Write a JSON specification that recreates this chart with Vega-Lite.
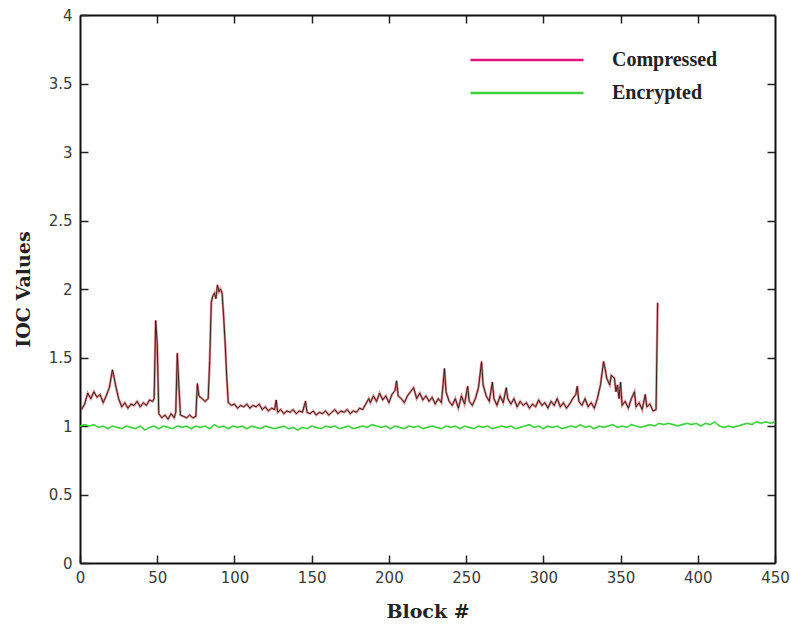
{
  "$schema": "https://vega.github.io/schema/vega-lite/v6.json",
  "width": 695,
  "height": 548,
  "autosize": "none",
  "padding": {"left": 80, "top": 15, "right": 16, "bottom": 65},
  "background": "white",
  "config": {
    "view": {"stroke": null},
    "axis": {
      "grid": false,
      "domainColor": "#111",
      "domainWidth": 2,
      "tickColor": "#222",
      "tickWidth": 1.5,
      "tickSize": -8,
      "labelFlush": false,
      "labelFont": "DejaVu Sans",
      "labelFontSize": 15,
      "labelColor": "#3a3a3a",
      "titleFont": "DejaVu Serif",
      "titleFontWeight": "bold",
      "titleFontSize": 19,
      "titleColor": "#222"
    }
  },
  "datasets": {
    "comp": [
      {"block":1,"ioc":1.12},{"block":3,"ioc":1.16},{"block":5,"ioc":1.24},{"block":7,"ioc":1.2},{"block":9,"ioc":1.25},{"block":11,"ioc":1.21},{"block":13,"ioc":1.23},{"block":15,"ioc":1.17},{"block":17,"ioc":1.22},{"block":19,"ioc":1.28},{"block":21,"ioc":1.41},{"block":22,"ioc":1.36},{"block":23,"ioc":1.3},{"block":25,"ioc":1.2},{"block":27,"ioc":1.14},{"block":29,"ioc":1.17},{"block":31,"ioc":1.13},{"block":33,"ioc":1.16},{"block":35,"ioc":1.15},{"block":37,"ioc":1.18},{"block":39,"ioc":1.14},{"block":41,"ioc":1.17},{"block":43,"ioc":1.15},{"block":45,"ioc":1.19},{"block":47,"ioc":1.18},{"block":48,"ioc":1.2},{"block":49,"ioc":1.77},{"block":50,"ioc":1.6},{"block":51,"ioc":1.09},{"block":53,"ioc":1.06},{"block":55,"ioc":1.08},{"block":57,"ioc":1.05},{"block":59,"ioc":1.09},{"block":61,"ioc":1.06},{"block":62,"ioc":1.1},{"block":63,"ioc":1.53},{"block":64,"ioc":1.3},{"block":65,"ioc":1.08},{"block":67,"ioc":1.07},{"block":69,"ioc":1.06},{"block":71,"ioc":1.08},{"block":73,"ioc":1.06},{"block":75,"ioc":1.07},{"block":76,"ioc":1.31},{"block":77,"ioc":1.22},{"block":79,"ioc":1.2},{"block":81,"ioc":1.18},{"block":83,"ioc":1.2},{"block":84,"ioc":1.48},{"block":85,"ioc":1.9},{"block":86,"ioc":1.95},{"block":87,"ioc":1.97},{"block":88,"ioc":1.93},{"block":89,"ioc":2.03},{"block":90,"ioc":1.98},{"block":91,"ioc":2.0},{"block":92,"ioc":1.97},{"block":93,"ioc":1.8},{"block":94,"ioc":1.6},{"block":95,"ioc":1.36},{"block":96,"ioc":1.17},{"block":98,"ioc":1.15},{"block":100,"ioc":1.16},{"block":102,"ioc":1.13},{"block":104,"ioc":1.15},{"block":106,"ioc":1.14},{"block":108,"ioc":1.16},{"block":110,"ioc":1.13},{"block":112,"ioc":1.15},{"block":114,"ioc":1.14},{"block":116,"ioc":1.16},{"block":118,"ioc":1.12},{"block":120,"ioc":1.14},{"block":122,"ioc":1.11},{"block":124,"ioc":1.13},{"block":126,"ioc":1.12},{"block":127,"ioc":1.19},{"block":128,"ioc":1.1},{"block":130,"ioc":1.12},{"block":132,"ioc":1.09},{"block":134,"ioc":1.11},{"block":136,"ioc":1.1},{"block":138,"ioc":1.12},{"block":140,"ioc":1.09},{"block":142,"ioc":1.11},{"block":144,"ioc":1.1},{"block":146,"ioc":1.18},{"block":147,"ioc":1.1},{"block":149,"ioc":1.09},{"block":151,"ioc":1.11},{"block":153,"ioc":1.08},{"block":155,"ioc":1.1},{"block":157,"ioc":1.09},{"block":159,"ioc":1.11},{"block":161,"ioc":1.08},{"block":163,"ioc":1.1},{"block":165,"ioc":1.12},{"block":167,"ioc":1.09},{"block":169,"ioc":1.11},{"block":171,"ioc":1.1},{"block":173,"ioc":1.12},{"block":175,"ioc":1.09},{"block":177,"ioc":1.11},{"block":179,"ioc":1.1},{"block":181,"ioc":1.13},{"block":183,"ioc":1.12},{"block":185,"ioc":1.16},{"block":187,"ioc":1.2},{"block":188,"ioc":1.17},{"block":190,"ioc":1.22},{"block":192,"ioc":1.18},{"block":194,"ioc":1.24},{"block":196,"ioc":1.19},{"block":198,"ioc":1.22},{"block":200,"ioc":1.17},{"block":202,"ioc":1.23},{"block":204,"ioc":1.26},{"block":205,"ioc":1.33},{"block":206,"ioc":1.22},{"block":208,"ioc":1.2},{"block":210,"ioc":1.17},{"block":212,"ioc":1.22},{"block":214,"ioc":1.25},{"block":216,"ioc":1.28},{"block":218,"ioc":1.2},{"block":220,"ioc":1.24},{"block":222,"ioc":1.19},{"block":224,"ioc":1.22},{"block":226,"ioc":1.18},{"block":228,"ioc":1.21},{"block":230,"ioc":1.16},{"block":232,"ioc":1.2},{"block":234,"ioc":1.17},{"block":236,"ioc":1.42},{"block":237,"ioc":1.25},{"block":239,"ioc":1.18},{"block":241,"ioc":1.15},{"block":243,"ioc":1.2},{"block":245,"ioc":1.13},{"block":247,"ioc":1.22},{"block":249,"ioc":1.16},{"block":251,"ioc":1.29},{"block":252,"ioc":1.18},{"block":254,"ioc":1.15},{"block":256,"ioc":1.2},{"block":258,"ioc":1.28},{"block":260,"ioc":1.47},{"block":261,"ioc":1.3},{"block":263,"ioc":1.22},{"block":265,"ioc":1.18},{"block":267,"ioc":1.32},{"block":268,"ioc":1.2},{"block":270,"ioc":1.15},{"block":272,"ioc":1.22},{"block":274,"ioc":1.17},{"block":276,"ioc":1.28},{"block":277,"ioc":1.2},{"block":279,"ioc":1.16},{"block":281,"ioc":1.2},{"block":283,"ioc":1.14},{"block":285,"ioc":1.18},{"block":287,"ioc":1.15},{"block":289,"ioc":1.17},{"block":291,"ioc":1.13},{"block":293,"ioc":1.16},{"block":295,"ioc":1.14},{"block":297,"ioc":1.19},{"block":299,"ioc":1.15},{"block":301,"ioc":1.17},{"block":303,"ioc":1.13},{"block":305,"ioc":1.18},{"block":307,"ioc":1.15},{"block":309,"ioc":1.2},{"block":311,"ioc":1.14},{"block":313,"ioc":1.17},{"block":315,"ioc":1.13},{"block":317,"ioc":1.16},{"block":319,"ioc":1.2},{"block":321,"ioc":1.23},{"block":322,"ioc":1.29},{"block":323,"ioc":1.18},{"block":325,"ioc":1.15},{"block":327,"ioc":1.2},{"block":329,"ioc":1.14},{"block":331,"ioc":1.17},{"block":333,"ioc":1.13},{"block":335,"ioc":1.2},{"block":337,"ioc":1.3},{"block":339,"ioc":1.47},{"block":340,"ioc":1.42},{"block":341,"ioc":1.35},{"block":343,"ioc":1.3},{"block":344,"ioc":1.37},{"block":346,"ioc":1.35},{"block":347,"ioc":1.25},{"block":348,"ioc":1.3},{"block":349,"ioc":1.2},{"block":350,"ioc":1.32},{"block":351,"ioc":1.15},{"block":353,"ioc":1.18},{"block":355,"ioc":1.13},{"block":357,"ioc":1.2},{"block":359,"ioc":1.25},{"block":360,"ioc":1.14},{"block":362,"ioc":1.17},{"block":364,"ioc":1.12},{"block":366,"ioc":1.23},{"block":367,"ioc":1.14},{"block":369,"ioc":1.16},{"block":371,"ioc":1.11},{"block":373,"ioc":1.12},{"block":374,"ioc":1.9}
    ],
    "enc": [
      {"block":0,"ioc":1.0},{"block":3,"ioc":1.01},{"block":6,"ioc":1.0},{"block":9,"ioc":1.01},{"block":12,"ioc":0.99},{"block":15,"ioc":1.0},{"block":18,"ioc":0.98},{"block":21,"ioc":1.0},{"block":24,"ioc":0.99},{"block":27,"ioc":0.98},{"block":30,"ioc":1.0},{"block":33,"ioc":0.99},{"block":36,"ioc":0.98},{"block":39,"ioc":1.0},{"block":42,"ioc":0.97},{"block":45,"ioc":0.99},{"block":48,"ioc":1.0},{"block":51,"ioc":0.98},{"block":54,"ioc":1.0},{"block":57,"ioc":0.99},{"block":60,"ioc":0.98},{"block":63,"ioc":1.0},{"block":66,"ioc":0.99},{"block":69,"ioc":1.0},{"block":72,"ioc":0.98},{"block":75,"ioc":1.0},{"block":78,"ioc":0.99},{"block":81,"ioc":1.0},{"block":84,"ioc":0.98},{"block":87,"ioc":1.01},{"block":90,"ioc":0.99},{"block":93,"ioc":1.0},{"block":96,"ioc":0.98},{"block":99,"ioc":1.0},{"block":102,"ioc":0.99},{"block":105,"ioc":1.0},{"block":108,"ioc":0.98},{"block":111,"ioc":1.0},{"block":114,"ioc":0.99},{"block":117,"ioc":0.98},{"block":120,"ioc":1.0},{"block":123,"ioc":0.99},{"block":126,"ioc":0.98},{"block":129,"ioc":0.99},{"block":132,"ioc":1.0},{"block":135,"ioc":0.98},{"block":138,"ioc":0.99},{"block":141,"ioc":0.97},{"block":144,"ioc":0.99},{"block":147,"ioc":0.98},{"block":150,"ioc":1.0},{"block":153,"ioc":0.99},{"block":156,"ioc":0.98},{"block":159,"ioc":1.0},{"block":162,"ioc":0.99},{"block":165,"ioc":1.0},{"block":168,"ioc":0.98},{"block":171,"ioc":0.99},{"block":174,"ioc":1.0},{"block":177,"ioc":0.98},{"block":180,"ioc":0.99},{"block":183,"ioc":1.0},{"block":186,"ioc":0.99},{"block":189,"ioc":1.01},{"block":192,"ioc":1.0},{"block":195,"ioc":0.99},{"block":198,"ioc":1.0},{"block":201,"ioc":0.98},{"block":204,"ioc":1.0},{"block":207,"ioc":0.99},{"block":210,"ioc":0.98},{"block":213,"ioc":1.0},{"block":216,"ioc":0.99},{"block":219,"ioc":1.0},{"block":222,"ioc":0.98},{"block":225,"ioc":0.99},{"block":228,"ioc":1.0},{"block":231,"ioc":0.99},{"block":234,"ioc":0.98},{"block":237,"ioc":1.0},{"block":240,"ioc":0.99},{"block":243,"ioc":1.0},{"block":246,"ioc":0.98},{"block":249,"ioc":1.0},{"block":252,"ioc":0.99},{"block":255,"ioc":0.98},{"block":258,"ioc":1.0},{"block":261,"ioc":0.99},{"block":264,"ioc":1.0},{"block":267,"ioc":0.98},{"block":270,"ioc":0.99},{"block":273,"ioc":1.0},{"block":276,"ioc":0.99},{"block":279,"ioc":1.0},{"block":282,"ioc":0.98},{"block":285,"ioc":0.99},{"block":288,"ioc":1.0},{"block":291,"ioc":1.01},{"block":294,"ioc":0.99},{"block":297,"ioc":1.0},{"block":300,"ioc":0.98},{"block":303,"ioc":1.0},{"block":306,"ioc":0.99},{"block":309,"ioc":1.0},{"block":312,"ioc":0.98},{"block":315,"ioc":0.99},{"block":318,"ioc":1.0},{"block":321,"ioc":0.99},{"block":324,"ioc":1.01},{"block":327,"ioc":0.99},{"block":330,"ioc":1.0},{"block":333,"ioc":0.98},{"block":336,"ioc":1.0},{"block":339,"ioc":0.99},{"block":342,"ioc":1.0},{"block":345,"ioc":1.01},{"block":348,"ioc":0.99},{"block":351,"ioc":1.0},{"block":354,"ioc":0.99},{"block":357,"ioc":1.01},{"block":360,"ioc":1.0},{"block":363,"ioc":0.99},{"block":366,"ioc":1.0},{"block":369,"ioc":1.01},{"block":372,"ioc":1.0},{"block":375,"ioc":1.02},{"block":378,"ioc":1.01},{"block":381,"ioc":1.02},{"block":384,"ioc":1.01},{"block":387,"ioc":1.0},{"block":390,"ioc":1.01},{"block":393,"ioc":1.02},{"block":396,"ioc":1.01},{"block":399,"ioc":1.02},{"block":402,"ioc":1.0},{"block":405,"ioc":1.02},{"block":408,"ioc":1.01},{"block":411,"ioc":1.03},{"block":414,"ioc":1.0},{"block":417,"ioc":0.99},{"block":420,"ioc":1.0},{"block":423,"ioc":0.99},{"block":426,"ioc":1.0},{"block":429,"ioc":1.01},{"block":432,"ioc":1.02},{"block":435,"ioc":1.01},{"block":438,"ioc":1.03},{"block":441,"ioc":1.02},{"block":444,"ioc":1.03},{"block":447,"ioc":1.02},{"block":450,"ioc":1.03}
    ]
  },
  "layer": [
    {
      "data": {"name": "comp"},
      "mark": {"type": "line", "color": "#c83a3a", "strokeWidth": 2.4, "opacity": 0.6},
      "encoding": {
        "x": {"field": "block", "type": "quantitative", "scale": {"domain": [0, 450], "nice": false},
              "axis": {"title": "Block #", "values": [0,50,100,150,200,250,300,350,400,450], "labelPadding": 15, "titlePadding": 17}},
        "y": {"field": "ioc", "type": "quantitative", "scale": {"domain": [0, 4], "nice": false, "zero": true},
              "axis": {"title": "IOC Values", "values": [0,0.5,1,1.5,2,2.5,3,3.5,4], "format": "~g", "labelPadding": 16, "titlePadding": 15}}
      }
    },
    {
      "data": {"name": "comp"},
      "mark": {"type": "line", "color": "#2a1515", "strokeWidth": 0.9},
      "encoding": {
        "x": {"field": "block", "type": "quantitative", "axis": null},
        "y": {"field": "ioc", "type": "quantitative", "axis": null}
      }
    },
    {
      "data": {"name": "enc"},
      "transform": [{"calculate": "'Encrypted'", "as": "series"}],
      "mark": {"type": "line", "strokeWidth": 1.6},
      "encoding": {
        "x": {"field": "block", "type": "quantitative",
              "axis": {"orient": "top", "labels": false, "title": null, "values": [50,100,150,200,250,300,350,400]}},
        "y": {"field": "ioc", "type": "quantitative",
              "axis": {"orient": "right", "labels": false, "title": null, "values": [0.5,1,1.5,2,2.5,3,3.5]}},
        "color": {"field": "series", "type": "nominal",
                  "scale": {"domain": ["Compressed", "Encrypted"], "range": ["#e8127d", "#3ad33a"]},
                  "legend": {"title": null, "orient": "none", "legendX": 437, "legendY": 35,
                             "symbolType": "M-20,0H20", "symbolSize": 32, "symbolStrokeWidth": 2.6,
                             "labelOffset": 75, "labelFont": "Liberation Serif", "labelFontWeight": "bold",
                             "labelFontSize": 20, "labelColor": "#222", "rowPadding": 13, "padding": 0}}
      }
    }
  ],
  "resolve": {"axis": {"x": "independent", "y": "independent"}}
}
